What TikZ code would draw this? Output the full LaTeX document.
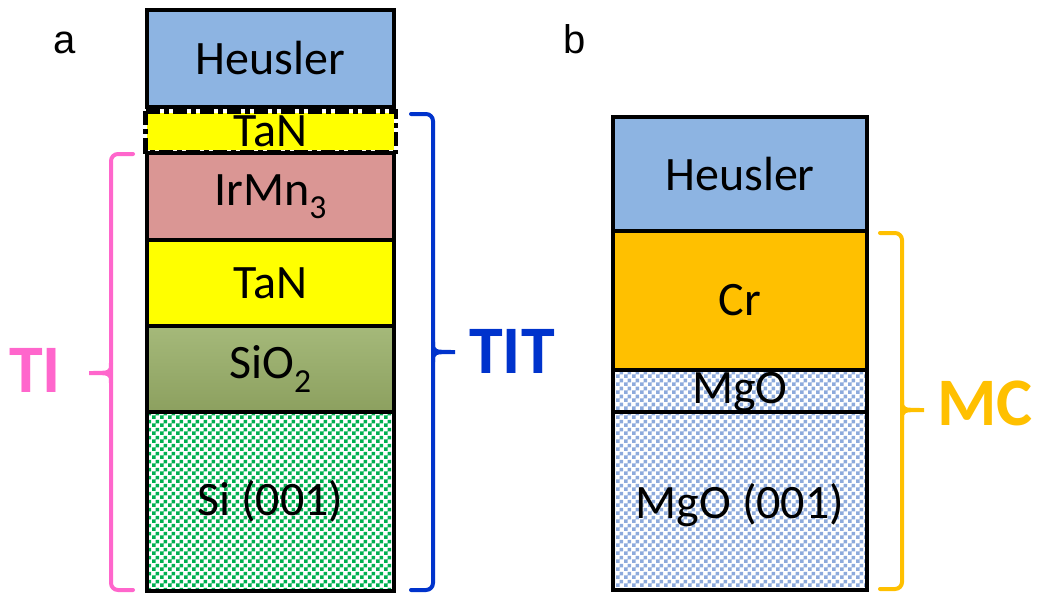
\documentclass[tikz,border=0pt]{standalone}
\usepackage{fontspec}
\setmainfont{Carlito}
\newfontfamily\arialf{Liberation Sans}
\usetikzlibrary{patterns}
\pgfdeclarepatternformonly{bigchecker}{\pgfpointorigin}{\pgfqpoint{8pt}{8pt}}{\pgfqpoint{8pt}{8pt}}{%
  \pgfpathrectangle{\pgfpointorigin}{\pgfqpoint{4pt}{4pt}}%
  \pgfpathrectangle{\pgfqpoint{4pt}{4pt}}{\pgfqpoint{4pt}{4pt}}%
  \pgfusepath{fill}}
\definecolor{heus}{RGB}{141,180,226}
\definecolor{irmn}{RGB}{218,150,148}
\definecolor{tanY}{RGB}{255,255,0}
\definecolor{crO}{RGB}{255,192,0}
\definecolor{siG}{RGB}{0,176,80}
\definecolor{mgoB}{RGB}{141,170,220}
\definecolor{sioT}{RGB}{165,185,122}
\definecolor{sioB}{RGB}{140,160,95}
\definecolor{pinkC}{RGB}{255,102,204}
\definecolor{blueC}{RGB}{0,51,204}
\definecolor{goldC}{RGB}{255,192,0}
\tikzset{
  layer/.style={draw=black, line width=3.5pt, inner sep=0pt, font=\fontsize{48}{52}\selectfont},
  ltext/.style={font=\fontsize{48}{52}\selectfont, inner sep=0pt},
  brk/.style={line width=4pt, rounded corners=7pt, line cap=round},
  tip/.style={line width=4pt, line cap=round},
  biglbl/.style={font=\fontsize{68}{70}\selectfont\bfseries, inner sep=0pt},
  panel/.style={font=\fontsize{40}{44}\selectfont\arialf, inner sep=0pt, anchor=base},
}
\begin{document}
\begin{tikzpicture}[x=1pt,y=-1pt]
\fill[white] (0,0) rectangle (1038,594);
\useasboundingbox (0,0) rectangle (1038,594);
% panel labels
\node[panel] (la) at (65,53) {a};
\node[panel] (lb) at (575,53) {b};
% stack a
\node[layer, fill=heus, minimum width=247pt, minimum height=97pt] (heuA) at (270.5,58.5) {Heusler};
\node[layer, draw=none, fill=tanY, minimum width=247pt, minimum height=37pt] (tanA) at (270.5,131.5) {TaN};
\draw[black, line width=4.5pt, dash pattern=on 14pt off 4pt on 5pt off 4pt] (tanA.north west) rectangle (tanA.south east);
\node[layer, fill=irmn, minimum width=247pt, minimum height=87pt] (irmn) at (270.5,196.5) {IrMn\textsubscript{3}};
\node[layer, fill=tanY, minimum width=247pt, minimum height=86pt] (tanB) at (270.5,283) {TaN};
\node[layer, top color=sioT, bottom color=sioB, minimum width=247pt, minimum height=86pt] (sio) at (270.5,369) {SiO\textsubscript{2}};
\node[layer, preaction={fill=white}, pattern=bigchecker, pattern color=siG, minimum width=247pt, minimum height=179pt] (si) at (270.5,501.5) {};
\node[ltext] (sit) at (270.5,501.5) {Si (001)};
% stack b
\node[layer, fill=heus, minimum width=254pt, minimum height=114pt] (heuB) at (740,174) {Heusler};
\node[layer, fill=crO, minimum width=254pt, minimum height=139pt] (cr) at (740,300.5) {Cr};
\node[layer, preaction={fill=white}, pattern=bigchecker, pattern color=mgoB, minimum width=254pt, minimum height=42pt] (mgo) at (740,391) {};
\node[ltext] (mgot) at (740,392) {MgO};
\node[layer, preaction={fill=white}, pattern=bigchecker, pattern color=mgoB, minimum width=254pt, minimum height=178pt] (mgos) at (740,501) {};
\node[ltext] (mgost) at (740,505) {MgO (001)};
% TI bracket
\draw[brk, pinkC] (133,154) -- (111,154) -- (111,590) -- (133,590);
\draw[tip, pinkC] (111,363) .. controls (111,373) .. (89,373) .. controls (111,373) .. (111,383);
\node[biglbl, text=pinkC] (ti) at (35,370) {TI};
% TIT bracket
\draw[brk, blueC] (411,114) -- (433,114) -- (433,590) -- (411,590);
\draw[tip, blueC] (433,342) .. controls (433,352) .. (455,352) .. controls (433,352) .. (433,362);
\node[biglbl, text=blueC] (tit) at (512,351) {TIT};
% MC bracket
\draw[brk, goldC] (880,233) -- (902,233) -- (902,589) -- (880,589);
\draw[tip, goldC] (902,400) .. controls (902,410) .. (924,410) .. controls (902,410) .. (902,420);
\node[biglbl, text=goldC] (mc) at (985,403) {MC};
\end{tikzpicture}
\end{document}
